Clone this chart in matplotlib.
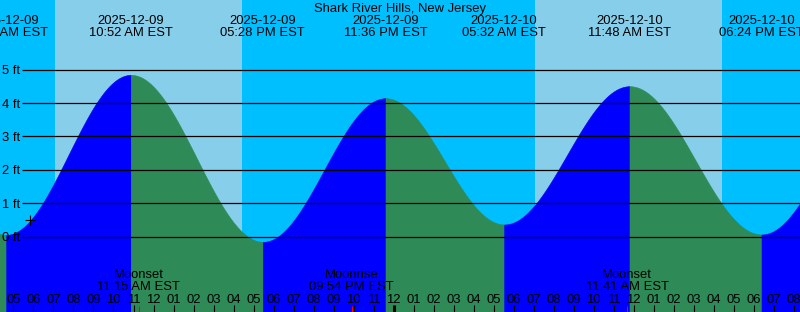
import matplotlib
matplotlib.use("Agg")
import matplotlib.pyplot as plt
import numpy as np
from datetime import datetime

plt.rcParams['font.family'] = ['Liberation Sans', 'DejaVu Sans']

# ---------------- data ----------------
title = "Shark River Hills, New Jersey"
unit = "ft"

# tide extremes (EST) and heights in feet
tide_times = ["2025-12-08 22:24", "2025-12-09 04:38", "2025-12-09 10:52",
              "2025-12-09 17:28", "2025-12-09 23:36", "2025-12-10 05:32",
              "2025-12-10 11:48", "2025-12-10 18:24", "2025-12-11 00:36"]
tide_heights = [4.3, 0.05, 4.84, -0.16, 4.14, 0.36, 4.50, 0.06, 4.3]
tide_time_labels = ["10:24 PM EST", "04:38 AM EST", "10:52 AM EST",
                    "05:28 PM EST", "11:36 PM EST", "05:32 AM EST",
                    "11:48 AM EST", "06:24 PM EST", "12:36 AM EST"]

sunrise_times = ["2025-12-09 07:04", "2025-12-10 07:04"]
sunset_times = ["2025-12-09 16:25", "2025-12-10 16:25"]

moon_times = ["2025-12-09 11:15", "2025-12-09 21:54", "2025-12-10 11:41"]
moon_names = ["Moonset", "Moonrise", "Moonset"]
moon_time_labels = ["11:15 AM EST", "09:54 PM EST", "11:41 AM EST"]

now_time = "2025-12-09 05:50"
now_height = 0.5

height_ticks = [0, 1, 2, 3, 4, 5]

window_start = "2025-12-09 04:19:30"
window_hours = 40

# ---------------- helpers ----------------
REF = datetime(2025, 12, 9)


def hrs(s):
    fmt = "%Y-%m-%d %H:%M:%S" if s.count(":") == 2 else "%Y-%m-%d %H:%M"
    return (datetime.strptime(s, fmt) - REF).total_seconds() / 3600.0


t0 = hrs(window_start)
t1 = t0 + window_hours

NIGHT = "#00BFFF"
DAY = "#87CEEB"
RISE = "#0000FF"
FALL = "#2E8B57"
FS = 9.4

W, H = 800, 312
fig = plt.figure(figsize=(W / 100, H / 100), dpi=100)
ax = fig.add_axes([0, 0, 1, 1])
ax.set_xlim(t0, t1)
px_per_ft = 33.4
y_top = 236.5 / px_per_ft
y_bot = -(H - 236.5) / px_per_ft
ax.set_ylim(y_bot, y_top)
ax.axis("off")
fig.patch.set_facecolor(NIGHT)
ax.axvspan(t0 - 10, t1 + 10, color=NIGHT, zorder=0)

for sr, ss in zip(sunrise_times, sunset_times):
    ax.axvspan(hrs(sr), hrs(ss), color=DAY, lw=0, zorder=1)

# tide curve
T = [hrs(s) for s in tide_times]
for i in range(len(T) - 1):
    ta, tb = T[i], T[i + 1]
    ha, hb = tide_heights[i], tide_heights[i + 1]
    t = np.linspace(ta, tb, 300)
    h = ha + (hb - ha) * (1 - np.cos(np.pi * (t - ta) / (tb - ta))) / 2
    col = RISE if hb > ha else FALL
    ax.fill_between(t, h, y_bot - 1, color=col, lw=0.4, edgecolor=col, zorder=2)

# height grid lines and labels
xf = ax.get_yaxis_transform()  # x in axes fraction, y in data
for v in height_ticks:
    ax.plot([22 / W, 1], [v, v], color="black", lw=0.9, transform=xf, zorder=3,
            solid_capstyle="butt")
    ax.text(2.5 / W, v - 4.8 / px_per_ft, f"{v} {unit}", transform=xf,
            ha="left", va="baseline", fontsize=FS, color="black", zorder=4)


def yfrac(px_from_top):
    return 1 - px_from_top / H


# header: title + extreme labels
tx = ax.get_xaxis_transform()  # x in data, y in axes fraction
ax.text(0.5, yfrac(12.3), title, transform=ax.transAxes, ha="center",
        va="baseline", fontsize=FS, zorder=5)
for s, lab in zip(tide_times, tide_time_labels):
    x = hrs(s)
    if t0 - 3 < x < t1 + 3:
        ax.text(x, yfrac(24.3), s[:10], transform=tx, ha="center",
                va="baseline", fontsize=FS, zorder=5)
        ax.text(x, yfrac(36.2), lab, transform=tx, ha="center",
                va="baseline", fontsize=FS, zorder=5)

# now marker
ax.plot([hrs(now_time)], [now_height], marker="+", ms=6.8, mew=0.8,
        color="black", zorder=6)

# hour ticks and labels along the bottom
start_h = int(np.ceil(t0))
for hh in range(start_h, int(np.floor(t1)) + 1):
    hour12 = hh % 12
    if hour12 == 0:
        hour12 = 12
    midnight = (hh % 24 == 0)
    ax.plot([hh, hh], [0, 7 / H], transform=tx, color="black",
            lw=2.2 if midnight else 0.8, solid_capstyle="butt", zorder=5)
    ax.text(hh, yfrac(303.0), f"{hour12:02d}", transform=tx, ha="center",
            va="baseline", fontsize=FS, zorder=5)

# moon events
for s, name, lab in zip(moon_times, moon_names, moon_time_labels):
    x = hrs(s)
    ax.plot([x, x], [0, 6 / H], transform=tx, color="red", lw=0.8,
            solid_capstyle="butt", zorder=6)
    ax.text(x, yfrac(277.6), name, transform=tx, ha="center", va="baseline",
            fontsize=FS, zorder=5)
    ax.text(x, yfrac(290.0), lab, transform=tx, ha="center", va="baseline",
            fontsize=FS, zorder=5)

fig.savefig("out.png", dpi=100, facecolor=NIGHT)
